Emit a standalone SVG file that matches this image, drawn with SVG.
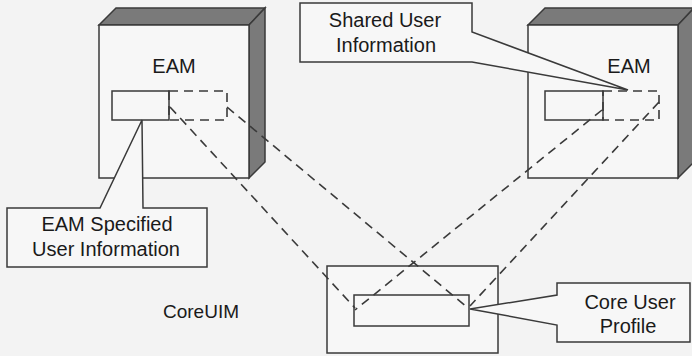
<svg xmlns="http://www.w3.org/2000/svg" width="692" height="356" viewBox="0 0 692 356">
<defs>
<style>
.bg{fill:#f3f3f3}
.face{fill:#f7f7f7;stroke:#3a3a3a;stroke-width:1.5}
.shade{fill:#7a7a7a;stroke:#3a3a3a;stroke-width:1.5}
.box{fill:#f7f7f7;stroke:#3a3a3a;stroke-width:1.5}
.call{fill:#f7f7f7;stroke:#3a3a3a;stroke-width:1.5;stroke-linejoin:miter}
.dash{fill:none;stroke:#3a3a3a;stroke-width:1.6;stroke-dasharray:9 6}
.t{font-family:"Liberation Sans",Arial,sans-serif;font-size:20px;fill:#1a1a1a;text-anchor:middle}
</style>
</defs>
<rect class="bg" x="0" y="0" width="692" height="356"/>

<g id="eam-left">
<polygon class="shade" points="99,25 116,8 265,8 249,25"/>
<polygon class="shade" points="249,25 265,8 265,162 249,178"/>
<rect class="face" x="99" y="25" width="150" height="153"/>
<text class="t" x="174" y="73">EAM</text>
<rect class="box" x="112" y="91" width="57" height="29"/>
<rect class="dash" x="169" y="91" width="58" height="29"/>
</g>

<g id="eam-right">
<polygon class="shade" points="528,25 545,8 694,8 678,25"/>
<polygon class="shade" points="678,25 694,8 694,162 678,178"/>
<rect class="face" x="528" y="25" width="150" height="153"/>
<text class="t" x="629" y="73">EAM</text>
<rect class="box" x="545" y="91" width="58" height="29"/>
<rect class="dash" x="603" y="91" width="56" height="29"/>
</g>

<g id="coreuim">
<rect class="box" x="327" y="266" width="171" height="87"/>
<rect class="box" x="354" y="295" width="115" height="31"/>
<text class="t" x="201" y="318" style="font-size:19px">CoreUIM</text>
</g>

<g id="connectors">
<line class="dash" x1="170" y1="107" x2="355" y2="308"/>
<line class="dash" x1="227" y1="107" x2="468" y2="308"/>
<line class="dash" x1="602" y1="110" x2="355" y2="310"/>
<line class="dash" x1="659" y1="102" x2="470" y2="306"/>
</g>

<g id="callout-eam-specified">
<polygon class="call" points="7,208 100,208 142,120 143,208 207,208 207,267 7,267"/>
<text class="t" x="107" y="231">EAM Specified</text>
<text class="t" x="106" y="256">User Information</text>
</g>

<g id="callout-shared">
<polygon class="call" points="300,3 472,3 472,32 628,90 472,62 300,62"/>
<text class="t" x="385" y="27">Shared User</text>
<text class="t" x="386" y="52">Information</text>
</g>

<g id="callout-core-profile">
<polygon class="call" points="557,283 690,283 690,342 557,342 557,325 470,309 557,295"/>
<text class="t" x="630" y="309">Core User</text>
<text class="t" x="628" y="333">Profile</text>
</g>
</svg>
